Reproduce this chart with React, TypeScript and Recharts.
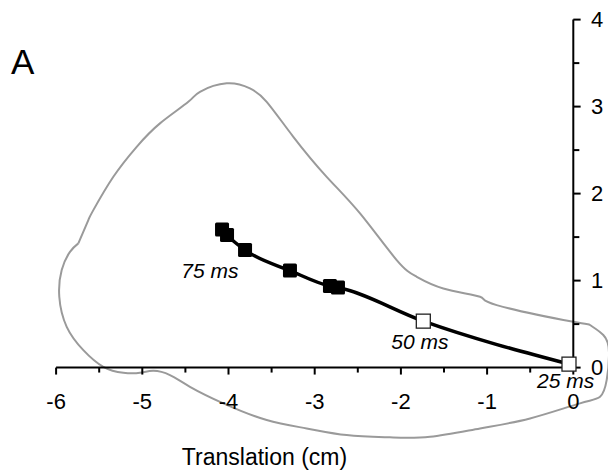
import React from "react";
import { ComposedChart, Line, XAxis, YAxis, ReferenceLine, ReferenceDot } from "recharts";

const FONT = '"Liberation Sans", Arial, Helvetica, sans-serif';

// axis ticks
const xMajor = [-6, -5, -4, -3, -2, -1, 0];
const xMinor = [-5.5, -4.5, -3.5, -2.5, -1.5, -0.5];
const yMajor = [0, 1, 2, 3, 4];
const yMinor = [0.5, 1.5, 2.5, 3.5];

// trajectory (sorted by translation), open squares = 25 / 50 ms
const pathX = [-4.075, -4.017, -3.808, -3.287, -2.823, -2.73, -1.74, -0.05];
const pathY = [1.586, 1.523, 1.351, 1.115, 0.937, 0.92, 0.534, 0.04];
const pathOpen = [false, false, false, false, false, false, true, true];

// grey boundary, traced clockwise and closed
const edgeX = [
  -5.742, -5.626, -5.568, -5.336, -5.065, -4.795, -4.466, -4.331, -4.021, -3.751,
  -3.557, -3.248, -2.861, -2.474, -2.049, -1.817, -1.508, -1.082, -0.889, 0.0,
  0.194, 0.348, 0.414, 0.387, 0.31, 0.078, -0.502, -1.082, -1.662, -2.127,
  -2.629, -3.093, -3.557, -4.06, -4.447, -4.679, -4.872, -5.027, -5.22, -5.452,
  -5.684, -5.877, -5.963, -5.935, -5.839, -5.742,
];
const edgeY = [
  1.428, 1.695, 1.81, 2.193, 2.538, 2.807, 3.055, 3.17, 3.267, 3.209,
  3.055, 2.653, 2.193, 1.772, 1.236, 1.044, 0.91, 0.814, 0.718, 0.526,
  0.489, 0.374, 0.178, -0.144, -0.336, -0.411, -0.584, -0.699, -0.795, -0.802,
  -0.776, -0.699, -0.603, -0.411, -0.221, -0.086, -0.037, -0.06, -0.06, 0.009,
  0.201, 0.469, 0.814, 1.121, 1.331, 1.428,
];

const noteText = ["75 ms", "50 ms", "25 ms"];
const noteX = [-4.215, -1.78, -0.088];
const noteY = [1.12, 0.305, -0.15];

const pathData = pathX.map((x, i) => ({ x, y: pathY[i], open: pathOpen[i] }));
const edgeData = edgeX.map((x, i) => ({ x, y: edgeY[i] }));

const Square = (props: any) => {
  const { cx, cy, payload, index } = props;
  if (cx == null || cy == null) return <g key={index} />;
  return payload.open ? (
    <rect key={index} x={cx - 7} y={cy - 7} width={14} height={14} fill="#fff" stroke="#222" strokeWidth={1.3} />
  ) : (
    <rect key={index} x={cx - 7} y={cy - 7} width={14} height={14} rx={1.5} fill="#000" />
  );
};

const labelStyle = { position: "center" as const, fill: "#000", fontSize: 22, fontFamily: FONT };

export default function App() {
  return (
    <div style={{ position: "absolute", left: 0, top: 0, width: 608, height: 470, overflow: "hidden", background: "#fff" }}>
      <ComposedChart width={630} height={470} margin={{ top: 10.9, right: 4.98, bottom: 19.75, left: 38.86 }}>
        <XAxis type="number" dataKey="x" domain={[-6.2, 0.6]} hide />
        <YAxis type="number" dataKey="y" domain={[-0.95, 4.1]} hide />

        <Line data={edgeData} dataKey="y" type="natural" stroke="#9a9a9a" strokeWidth={2} dot={false} activeDot={false} isAnimationActive={false} />

        <ReferenceLine segment={[{ x: -6, y: 0 }, { x: 0, y: 0 }]} stroke="#000" strokeWidth={2} />
        <ReferenceLine segment={[{ x: 0, y: 0 }, { x: 0, y: 4 }]} stroke="#000" strokeWidth={2} />
        {xMajor.map((v) => (
          <ReferenceLine key={"xm" + v} segment={[{ x: v, y: 0 }, { x: v, y: -0.08 }]} stroke="#000" strokeWidth={2} />
        ))}
        {xMinor.map((v) => (
          <ReferenceLine key={"xn" + v} segment={[{ x: v, y: 0 }, { x: v, y: -0.057 }]} stroke="#000" strokeWidth={2} />
        ))}
        {yMajor.map((v) => (
          <ReferenceLine key={"ym" + v} segment={[{ x: 0, y: v }, { x: 0.085, y: v }]} stroke="#000" strokeWidth={2} />
        ))}
        {yMinor.map((v) => (
          <ReferenceLine key={"yn" + v} segment={[{ x: 0, y: v }, { x: 0.07, y: v }]} stroke="#000" strokeWidth={2} />
        ))}
        {xMajor.map((v) => (
          <ReferenceDot key={"xl" + v} x={v} y={-0.39} r={0} fill="none" stroke="none" label={{ value: String(v), ...labelStyle }} />
        ))}
        {yMajor.map((v) => (
          <ReferenceDot key={"yl" + v} x={0.275} y={v} r={0} fill="none" stroke="none" label={{ value: String(v), ...labelStyle }} />
        ))}

        <Line data={pathData} dataKey="y" type="monotone" stroke="#000" strokeWidth={3.5} dot={Square} activeDot={false} isAnimationActive={false} />

        {noteText.map((t, i) => (
          <ReferenceDot
            key={t}
            x={noteX[i]}
            y={noteY[i]}
            r={0}
            fill="none"
            stroke="none"
            label={{ value: t, position: "center", fill: "#000", fontSize: 21, fontStyle: "italic", fontFamily: FONT }}
          />
        ))}

        <text x={11} y={74} fontSize={35} fontFamily={FONT} fill="#000">A</text>
        <text x={264.5} y={465} fontSize={23} fontFamily={FONT} fill="#000" textAnchor="middle">Translation (cm)</text>
      </ComposedChart>
    </div>
  );
}
